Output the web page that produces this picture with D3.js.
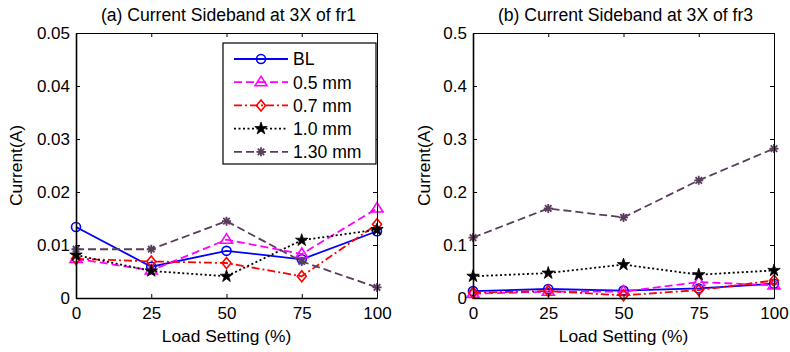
<!DOCTYPE html>
<html>
<head>
<meta charset="utf-8">
<script src="https://cdn.jsdelivr.net/npm/d3@7"></script>
<style>
  body { margin: 0; background: #fff; }
  text { font-family: Arial, "Liberation Sans", sans-serif; fill: #000; }
</style>
</head>
<body>
<div id="chart"></div>
<script>
// Categories
const loads = [0, 25, 50, 75, 100];
const seriesNames = ["BL", "0.5 mm", "0.7 mm", "1.0 mm", "1.30 mm"];

// (a) sideband at 3X of fr1
const fr1BL = [0.0134, 0.0059, 0.0089, 0.0073, 0.0126];
const fr1_05 = [0.0074, 0.0052, 0.0110, 0.0083, 0.0169];
const fr1_07 = [0.0074, 0.0069, 0.0066, 0.0041, 0.0139];
const fr1_10 = [0.0081, 0.0051, 0.0041, 0.0109, 0.0129];
const fr1_13 = [0.0092, 0.0092, 0.0145, 0.0069, 0.0020];

// (b) sideband at 3X of fr3
const fr3BL = [0.013, 0.017, 0.014, 0.018, 0.027];
const fr3_05 = [0.008, 0.012, 0.012, 0.030, 0.024];
const fr3_07 = [0.010, 0.013, 0.005, 0.015, 0.033];
const fr3_10 = [0.041, 0.047, 0.063, 0.044, 0.052];
const fr3_13 = [0.114, 0.169, 0.152, 0.222, 0.282];

// Tick labels
const xTicks = [0, 25, 50, 75, 100];
const yTicksA = [0, 0.01, 0.02, 0.03, 0.04, 0.05];
const yTicksB = [0, 0.1, 0.2, 0.3, 0.4, 0.5];

const width = 790, height = 352;

// Styles per series
const styles = [
    {color: "#0000ff", dash: null, marker: "circle"},
    {color: "#ff00ff", dash: "8,4", marker: "triangle"},
    {color: "#ff0000", dash: "8,3,2,3", marker: "diamond"},
    {color: "#000000", dash: "2,2.5", marker: "star"},
    {color: "#5a3d5c", dash: "8,4", marker: "asterisk"}
];

const svg = d3.select("#chart")
    .append("svg")
    .attr("width", width)
    .attr("height", height);

// Marker drawing
function drawMarker(g, type, color, cx, cy) {
    if (type === "circle") {
        g.append("circle").attr("cx", cx).attr("cy", cy).attr("r", 4.5)
            .attr("fill", "none").attr("stroke", color).attr("stroke-width", 1.6);
    } else if (type === "triangle") {
        const r = 6;
        g.append("path")
            .attr("d", `M${cx},${cy - r}L${cx + r},${cy + r * 0.6}L${cx - r},${cy + r * 0.6}Z`)
            .attr("fill", "none").attr("stroke", color).attr("stroke-width", 1.6);
    } else if (type === "diamond") {
        g.append("path")
            .attr("d", `M${cx},${cy - 5.5}L${cx + 4.5},${cy}L${cx},${cy + 5.5}L${cx - 4.5},${cy}Z`)
            .attr("fill", "none").attr("stroke", color).attr("stroke-width", 1.6);
    } else if (type === "star") {
        g.append("path")
            .attr("d", d3.symbol().type(d3.symbolStar).size(48)())
            .attr("transform", `translate(${cx},${cy})`)
            .attr("fill", color).attr("stroke", color).attr("stroke-width", 0.8);
    } else if (type === "asterisk") {
        const r = 4.5, q = r * 0.72;
        g.append("path")
            .attr("d", `M${cx - r},${cy}H${cx + r}M${cx},${cy - r}V${cy + r}` +
                `M${cx - q},${cy - q}L${cx + q},${cy + q}M${cx - q},${cy + q}L${cx + q},${cy - q}`)
            .attr("fill", "none").attr("stroke", color).attr("stroke-width", 1.8);
    }
}

function drawPanel(opts) {
    const {left, right, top, bottom, yMax, yTicks, series, title, legend, labelOffset} = opts;

    const x = d3.scaleLinear().domain([0, 100]).range([left, right]);
    const y = d3.scaleLinear().domain([0, yMax]).range([bottom, top]);

    const g = svg.append("g");

    // Plot area
    g.append("rect")
        .attr("x", left).attr("y", top)
        .attr("width", right - left).attr("height", bottom - top)
        .attr("fill", "#fff");

    // Lines
    const line = d3.line().x((d, i) => x(loads[i])).y(d => y(d));
    series.forEach((vals, k) => {
        const s = styles[k];
        g.append("path")
            .datum(vals)
            .attr("fill", "none")
            .attr("stroke", s.color)
            .attr("stroke-width", 1.8)
            .attr("stroke-dasharray", s.dash)
            .attr("d", line);
        vals.forEach((v, i) => drawMarker(g, s.marker, s.color, x(loads[i]), y(v)));
    });

    // Axes (ticks inside, box)
    const tick = 4;
    g.append("g")
        .attr("transform", `translate(0,${bottom})`)
        .call(d3.axisBottom(x).tickValues(xTicks).tickSize(-tick).tickPadding(8).tickSizeOuter(0))
        .call(a => a.select(".domain").attr("stroke-width", 1.6))
        .call(a => a.selectAll("text").attr("font-size", 17).attr("dy", "0.76em"));
    g.append("g")
        .attr("transform", `translate(0,${top})`)
        .call(d3.axisTop(x).tickValues(xTicks).tickSize(-tick).tickFormat("").tickSizeOuter(0));
    g.append("g")
        .attr("transform", `translate(${left},0)`)
        .call(d3.axisLeft(y).tickValues(yTicks).tickSize(-tick).tickPadding(6).tickSizeOuter(0)
            .tickFormat(d => d === 0 ? "0" : String(d)))
        .call(a => a.select(".domain").attr("stroke-width", 1.6))
        .call(a => a.selectAll("text").attr("font-size", 17));
    g.append("g")
        .attr("transform", `translate(${right},0)`)
        .call(d3.axisRight(y).tickValues(yTicks).tickSize(-tick).tickFormat("").tickSizeOuter(0));
    g.selectAll(".tick line").attr("stroke", "#000");
    g.selectAll(".domain").attr("stroke", "#000");
    g.selectAll(".tick text").attr("font-family", "Arial, 'Liberation Sans', sans-serif").attr("fill", "#000");

    // Title
    g.append("text")
        .attr("x", (left + right) / 2 + 2)
        .attr("y", 21)
        .attr("text-anchor", "middle")
        .attr("font-size", 17.6)
        .text(title);

    // Axis labels
    g.append("text")
        .attr("x", (left + right) / 2)
        .attr("y", 342)
        .attr("text-anchor", "middle")
        .attr("font-size", 17.4)
        .text("Load Setting (%)");
    g.append("text")
        .attr("transform", `translate(${left - labelOffset},${(top + bottom) / 2}) rotate(-90)`)
        .attr("text-anchor", "middle")
        .attr("font-size", 17.4)
        .text("Current(A)");

    // Legend
    if (legend) {
        const lg = g.append("g");
        lg.append("rect")
            .attr("x", 223).attr("y", 43)
            .attr("width", 153).attr("height", 121)
            .attr("fill", "#fff").attr("stroke", "#000").attr("stroke-width", 1.2);
        seriesNames.forEach((name, k) => {
            const s = styles[k];
            const ly = 59 + k * 23.2;
            lg.append("line")
                .attr("x1", 234).attr("x2", 288).attr("y1", ly).attr("y2", ly)
                .attr("stroke", s.color).attr("stroke-width", 1.8)
                .attr("stroke-dasharray", s.dash);
            drawMarker(lg, s.marker, s.color, 261, ly);
            lg.append("text")
                .attr("x", 293).attr("y", ly)
                .attr("dy", "0.36em")
                .attr("font-size", 17.6)
                .text(name);
        });
    }
}

drawPanel({
    left: 76, right: 377, top: 33, bottom: 298,
    yMax: 0.05, yTicks: yTicksA,
    series: [fr1BL, fr1_05, fr1_07, fr1_10, fr1_13],
    title: "(a) Current Sideband at 3X of fr1",
    legend: true, labelOffset: 54
});

drawPanel({
    left: 473, right: 774, top: 33, bottom: 298,
    yMax: 0.5, yTicks: yTicksB,
    series: [fr3BL, fr3_05, fr3_07, fr3_10, fr3_13],
    title: "(b) Current Sideband at 3X of fr3",
    legend: false, labelOffset: 43
});
</script>
</body>
</html>
